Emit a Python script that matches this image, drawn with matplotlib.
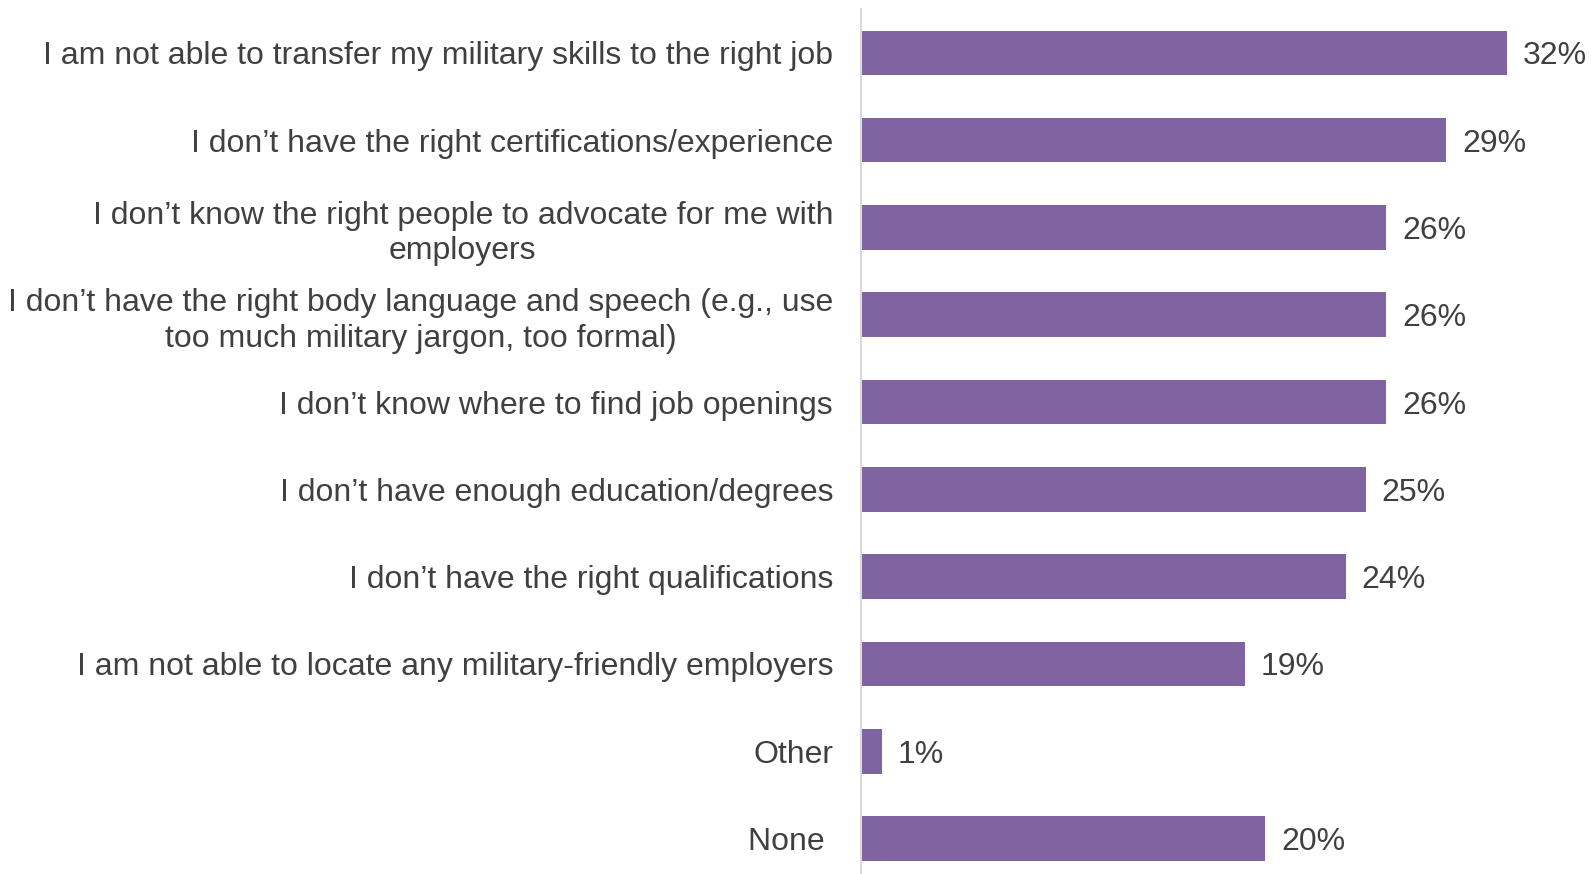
import matplotlib
matplotlib.use("Agg")
import matplotlib.pyplot as plt

# survey answers, top to bottom
labels = [
    "I am not able to transfer my military skills to the right job",
    "I don’t have the right certifications/experience",
    "I don’t know the right people to advocate for me with\nemployers",
    "I don’t have the right body language and speech (e.g., use\ntoo much military jargon, too formal)",
    "I don’t know where to find job openings",
    "I don’t have enough education/degrees",
    "I don’t have the right qualifications",
    "I am not able to locate any military-friendly employers",
    "Other",
    "None ",
]
values = [32, 29, 26, 26, 26, 25, 24, 19, 1, 20]

bar_color = "#8064A2"
text_color = "#404040"

plt.rcParams['font.family'] = ['Liberation Sans', 'DejaVu Sans']

fig = plt.figure(figsize=(15.91, 8.74), dpi=100)
ax = fig.add_axes([861.5 / 1591, 0, 1 - 861.5 / 1591, (874 - 9.2) / 874])

pos = list(range(len(values)))
ax.barh(pos, values, height=0.51, color=bar_color)

for p, v in zip(pos, values):
    ax.text(v + 0.8, p, f"{v}%", va="center_baseline", ha="left",
            fontsize=23, color=text_color)

ax.set_xlim(0, 36.17)
ax.set_ylim(9.406, -0.5)
ax.set_yticks(pos)
ax.set_yticklabels(labels, fontsize=23, color=text_color,
                   multialignment="center", linespacing=1.24)
ax.tick_params(axis="y", length=0, pad=20.5)
ax.set_xticks([])

for s in ["top", "right", "bottom"]:
    ax.spines[s].set_visible(False)
ax.spines["left"].set_color("#D9D9D9")
ax.spines["left"].set_linewidth(1.5)

fig.savefig("out.png", dpi=100)
